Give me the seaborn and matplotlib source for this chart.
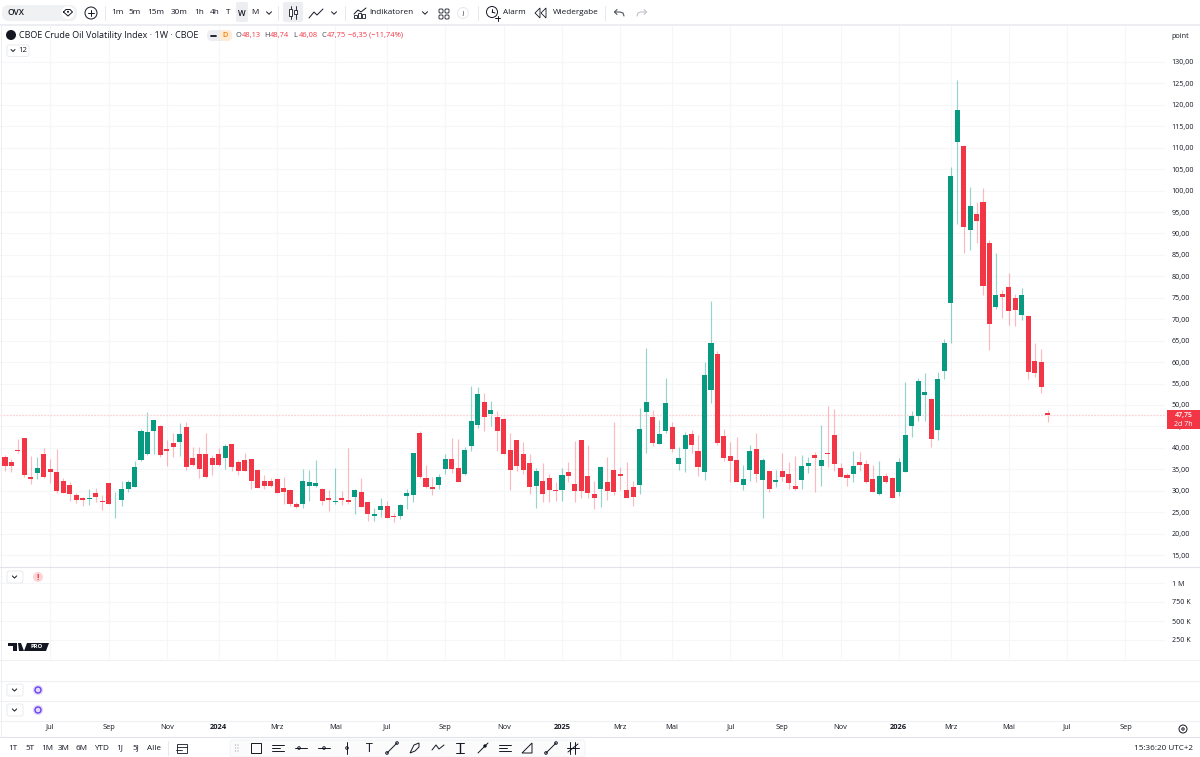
import matplotlib
matplotlib.use("Agg")
import matplotlib.pyplot as plt
from matplotlib.patches import Rectangle, FancyBboxPatch, Circle, Polygon
import pandas as pd
import seaborn as sns

# Weekly OVX candles
opens = [37.9,36.7,39.6,42.2,33.1,34.1,38.5,35.1,34.4,32.2,31.3,28.9,28.2,28.0,29.5,27.5,31.8,26.8,27.8,30.4,
         30.9,37.1,38.5,44.0,45.2,39.8,41.2,41.4,44.9,37.7,38.6,38.5,37.7,38.6,37.7,40.9,36.6,37.2,37.3,34.9,
         32.2,32.3,32.8,30.7,30.2,27.0,27.0,31.1,31.1,30.4,28.4,27.3,28.2,27.9,28.6,29.8,27.3,24.1,25.6,26.5,
         24.2,24.1,28.8,29.0,43.5,32.9,30.8,31.4,35.0,37.5,35.4,33.9,40.5,45.3,50.8,48.0,47.3,46.8,39.6,41.8,
         38.6,36.5,31.0,32.3,32.9,30.2,30.1,34.4,31.6,41.8,33.4,29.3,30.3,32.1,34.8,33.8,30.2,30.8,31.3,48.3,
         47.2,41.0,43.9,44.9,36.2,39.7,43.3,39.2,34.4,53.6,61.8,42.8,38.1,37.1,31.3,34.8,39.8,32.6,34.7,32.0,
         34.7,33.8,31.1,32.5,35.8,38.3,35.8,38.9,43.0,35.4,33.7,33.9,36.8,36.2,32.8,29.2,33.4,33.0,29.8,34.4,
         45.2,47.4,52.4,51.5,44.2,57.9,73.8,111.4,110.4,90.8,94.5,97.3,87.7,72.8,76.0,77.5,75.0,71.0,70.7,60.2,
         60.1,48.13]
highs = [38.3,37.5,42.0,42.3,38.2,37.9,40.0,37.4,39.7,32.9,32.1,29.4,28.6,30.3,30.7,29.1,31.9,29.7,32.2,32.4,
         37.0,44.3,48.4,46.6,45.3,41.8,43.4,45.7,46.0,40.1,40.2,43.4,38.3,39.9,40.8,41.0,37.2,38.7,37.5,35.0,
         33.7,32.9,33.0,33.1,30.4,27.4,35.0,34.8,37.2,30.7,30.2,35.4,29.9,39.9,30.4,33.0,27.4,25.9,28.2,27.6,
         24.9,26.8,30.5,38.8,44.0,36.1,33.3,34.0,38.6,42.4,42.1,40.3,54.4,54.3,52.9,50.9,48.5,46.9,43.4,41.9,
         41.4,38.5,35.2,36.4,33.9,32.0,35.2,36.8,41.5,41.9,40.7,32.3,35.8,37.8,46.0,35.5,36.6,32.3,49.2,63.2,
         48.8,46.5,56.2,46.1,40.3,43.8,44.2,43.0,60.1,74.3,62.6,44.3,41.4,42.5,36.0,40.7,43.4,37.6,34.8,34.8,
         38.7,36.8,38.2,38.3,37.9,39.1,45.3,49.8,49.0,36.4,34.1,39.3,39.1,37.2,36.0,37.0,34.2,33.1,37.6,55.3,
         48.7,56.4,57.5,51.6,57.8,65.3,105.4,125.8,110.6,100.9,97.3,100.5,88.5,85.4,76.8,80.7,75.9,77.4,70.8,64.4,
         63.0,48.74]
lows = [34.7,34.4,38.9,33.3,31.6,32.8,33.0,31.7,29.4,29.4,27.7,27.2,26.4,26.7,27.3,25.5,26.9,23.6,26.5,29.8,
        30.8,37.0,38.4,38.6,37.8,35.8,37.9,38.2,34.8,35.8,33.0,32.9,33.7,35.8,35.1,34.6,33.7,34.6,30.5,30.6,
        30.5,30.8,29.4,26.8,26.4,25.9,25.9,27.6,30.8,26.7,25.3,27.0,26.7,26.8,24.5,26.2,23.0,23.0,23.9,23.6,
        22.7,23.5,25.7,27.4,32.9,30.7,29.0,30.5,34.0,34.2,32.0,33.7,39.3,44.7,44.0,45.2,39.3,38.5,30.2,34.7,
        34.0,29.2,26.0,27.3,27.3,27.5,27.7,32.1,27.4,28.4,28.4,25.8,26.3,27.8,29.0,30.2,28.3,26.5,29.2,38.9,
        40.5,40.9,43.4,39.1,34.8,34.4,38.9,33.4,32.5,50.5,40.7,37.0,32.0,32.0,30.2,32.3,32.1,23.6,29.6,30.9,
        32.3,30.4,30.2,30.4,34.1,29.6,31.2,35.6,34.7,33.1,31.2,32.0,34.6,31.7,29.7,29.0,31.7,28.2,28.8,34.3,
        42.6,46.3,46.2,40.3,41.8,56.0,64.4,92.2,85.5,86.1,87.7,75.6,62.8,72.3,70.4,68.6,68.5,69.8,56.1,56.6,
        52.9,46.08]
closes = [35.8,35.8,39.3,33.6,32.8,35.2,33.2,34.4,29.9,29.5,29.3,27.9,27.9,28.3,28.6,27.3,27.0,27.0,30.5,32.0,
          35.5,44.0,43.6,46.5,38.4,39.2,40.3,43.2,35.5,36.1,35.0,33.2,36.1,35.9,40.4,35.6,34.6,34.7,32.3,30.7,
          31.2,31.0,29.5,29.6,26.8,26.2,32.2,32.0,31.7,27.7,27.9,27.7,27.9,27.4,30.2,26.3,24.6,24.6,26.4,23.7,
          23.9,26.7,29.5,38.7,33.2,30.9,30.4,33.2,37.4,35.1,32.1,39.5,46.2,52.6,47.1,48.8,44.0,38.6,34.9,35.7,
          34.8,30.8,34.7,29.2,30.1,29.9,33.7,33.4,29.9,29.9,29.5,28.3,35.6,29.9,29.6,33.4,28.4,28.6,44.5,50.7,
          41.2,43.3,50.4,39.8,37.7,42.9,40.6,35.5,57.1,64.5,41.1,37.6,36.9,32.1,32.7,39.2,34.0,37.1,30.3,32.5,
          33.2,31.7,30.4,35.7,36.4,37.6,37.1,38.6,36.2,33.2,33.0,35.8,35.9,32.0,29.8,33.5,32.1,28.3,36.6,43.1,
          47.5,55.7,53.0,42.0,56.0,64.5,103.4,118.8,91.6,96.5,92.9,77.7,68.9,75.6,75.2,71.9,72.1,75.7,57.6,57.5,
          54.1,47.75]

month_weeks = [7,16,25,33,42,51,59,68,77,86,95,103,112,120,129,138,146,155,164,173]
month_labels = ["Jul","Sep","Nov","2024","Mrz","Mai","Jul","Sep","Nov","2025","Mrz","Mai","Jul","Sep","Nov","2026","Mrz","Mai","Jul","Sep"]
price_ticks = list(range(15, 135, 5))
volume_ticks = [250, 500, 750, 1000]
volume_labels = ["250 K", "500 K", "750 K", "1 M"]
last_price = closes[-1]

UP = "#089981"
DOWN = "#f23645"
GRID = "#f5f6f8"
INK = "#131722"
SEP = "#e0e3eb"
W, H = 1200, 757
AXIS_SIZE = 5.1
BAR_SIZE = 5.9

sns.set_theme(style="white")
plt.rcParams["font.family"] = ["Open Sans", "DejaVu Sans"]

df = pd.DataFrame({"week": range(len(opens)), "open": opens, "high": highs, "low": lows, "close": closes})
df["base"] = df[["open", "close"]].min(axis=1)
df["body"] = (df["close"] - df["open"]).abs()
df["rising"] = df["close"] >= df["open"]

fig = plt.figure(figsize=(W / 100, H / 100), dpi=100, facecolor="white")


def pane(top, bottom):
    return fig.add_axes([0, 1 - bottom / H, 1165 / W, (bottom - top) / H])


ax = pane(25, 566)
for rising, colour, wick_alpha in [(True, UP, 0.42), (False, DOWN, 0.34)]:
    part = df[df["rising"] == rising]
    ax.vlines(part["week"], part["low"], part["high"], color=colour, alpha=wick_alpha, lw=0.85, zorder=0.8)
    sns.barplot(data=part, x="week", y="body", bottom=part["base"].to_numpy(), native_scale=True,
                width=0.78, color=colour, saturation=1, linewidth=0, errorbar=None, ax=ax, zorder=2)

ax.set_xlim(-0.773, 179.1)
ax.set_ylim(12.44, 138.63)
ax.axhline(last_price, color="#fbd3d6", lw=0.9, ls=(0, (1.5, 1)), zorder=0.9)
ax.set_xlabel("")
ax.set_ylabel("")
ax.set_axisbelow(True)
ax.grid(True, color=GRID, lw=0.8)
ax.set_xticks(month_weeks)
ax.set_xticklabels(month_labels)
ax.set_yticks(price_ticks)
ax.set_yticklabels([f"{p},00" for p in price_ticks])
ax.yaxis.tick_right()
ax.tick_params(axis="y", length=0, pad=4.8, labelsize=AXIS_SIZE, labelcolor=INK)
ax.tick_params(axis="x", length=0, pad=113.5, labelsize=5.4, labelcolor=INK)
for lab, txt in zip(ax.get_xticklabels(), month_labels):
    if txt.isdigit():
        lab.set_fontweight("bold")
sns.despine(ax=ax, left=True, right=True, top=True, bottom=True)

vol = pane(566, 659)
vol.set_xlim(ax.get_xlim())
vol.set_ylim((640 - 659) / 0.076 + 250, (640 - 566) / 0.076 + 250)
vol.set_xticks(month_weeks)
vol.set_xticklabels([])
vol.set_yticks(volume_ticks)
vol.set_yticklabels(volume_labels)
vol.yaxis.tick_right()
vol.tick_params(axis="both", length=0)
vol.tick_params(axis="y", pad=4.8, labelsize=AXIS_SIZE, labelcolor=INK)
vol.grid(True, color=GRID, lw=0.8)
vol.set_axisbelow(True)
sns.despine(ax=vol, left=True, right=True, top=True, bottom=True)

# Application chrome drawn in pixel space on top of the panes
ui = fig.add_axes([0, 0, 1, 1], zorder=10)
ui.set_xlim(0, W)
ui.set_ylim(H, 0)
ui.axis("off")
ui.patch.set_alpha(0)


def text(x, y, s, size=BAR_SIZE, color=INK, ha="left", weight="normal"):
    return ui.text(x, y, s, fontsize=size, color=color, ha=ha, va="center", fontweight=weight)


def rule(x0, y0, x1, y1, color=INK, lw=0.7):
    ui.plot([x0, x1], [y0, y1], color=color, lw=lw, solid_capstyle="round")


def rounded(x, y, w, h, face, edge="none", r=3, lw=0.6):
    ui.add_patch(FancyBboxPatch((x + r, y + r), w - 2 * r, h - 2 * r, boxstyle=f"round,pad={r}",
                                fc=face, ec=edge, lw=lw, mutation_aspect=1))


def chevron(x, y, s=2.5, color=INK):
    ui.plot([x - s, x, x + s], [y - s / 2, y + s / 2, y - s / 2], color=color, lw=0.7)


def ring(x, y, r, edge=INK, face="none", lw=0.7):
    ui.add_patch(Circle((x, y), r, fc=face, ec=edge, lw=lw))


# top bar
ui.add_patch(Rectangle((0, 0), W, 25, fc="white", ec="none"))
ui.add_patch(Rectangle((0, 24), W, 2, fc="#eceef2", ec="none"))
rounded(2, 5, 75, 16, "#f0f1f3", r=7)
text(8, 12.8, "OVX", 6.0, weight="semibold")
ring(68, 12.5, 6.5, edge="none", face="white")
ui.plot([63.5, 66, 70, 72.5, 68, 63.5], [12, 9.5, 9.5, 12, 16, 12], color=INK, lw=0.7)
ring(68, 11.8, 1, edge="none", face=INK)
ring(91, 13, 6)
rule(88, 13, 94, 13)
rule(91, 10, 91, 16)
for sep_x in (105, 278, 345, 478, 605):
    rule(sep_x, 6, sep_x, 20, "#e6e8ee", 0.7)
rounded(236, 2, 12, 20, "#eceef1", r=2)
for x, lab in [(117, "1m"), (135, "5m"), (156, "15m"), (179, "30m"), (199, "1h"), (215, "4h"), (228, "T"), (242, "W"), (255, "M")]:
    text(x, 13, lab, BAR_SIZE, ha="center", weight="semibold" if lab == "W" else "normal")
chevron(269, 13)
rounded(283, 2, 20, 20, "#eceef1", r=2)
for cx, top, bot in [(290.5, 9, 16), (295.5, 10, 14)]:
    rule(cx, 6, cx, 19, INK, 0.6)
    ui.add_patch(Rectangle((cx - 1.6, top), 3.2, bot - top, fc="white", ec=INK, lw=0.6, zorder=5))
ui.plot([309, 314, 317, 323], [18, 12, 15, 9], color=INK, lw=0.7)
chevron(334, 13)
ui.plot([354, 358, 361, 366], [14, 10, 12, 8], color=INK, lw=0.7)
for bx, bt in [(354, 15), (358, 13), (362, 14)]:
    ui.add_patch(Rectangle((bx, bt), 3, 18 - bt, fc="none", ec=INK, lw=0.6))
text(369, 13, "Indikatoren", BAR_SIZE)
chevron(425, 13)
for gx in (439, 445):
    for gy in (9, 15):
        rounded(gx, gy, 4, 4, "white", INK, r=1)
ring(463, 13, 5.5, edge="#e6e8ee")
text(463, 13, "J", 4.2, ha="center")
ring(492, 12, 5.5)
rule(492, 12, 492, 9)
rule(492, 12, 495, 13)
rule(495, 18, 500, 18)
rule(497.5, 15.5, 497.5, 20.5)
text(503, 13, "Alarm", BAR_SIZE)
for rx in (535, 541):
    ui.add_patch(Polygon([(rx + 5, 8), (rx, 13), (rx + 5, 18)], fc="none", ec=INK, lw=0.6))
text(553, 13, "Wiedergabe", BAR_SIZE)
ui.plot([617, 614.5, 617], [9.5, 12, 14.5], color="#50535e", lw=0.8)
ui.plot([614.5, 620, 623, 624], [12, 12, 13, 16], color="#50535e", lw=0.8)
ui.plot([644, 646.5, 644], [9.5, 12, 14.5], color="#c0c3cc", lw=0.8)
ui.plot([646.5, 641, 638, 637], [12, 12, 13, 16], color="#c0c3cc", lw=0.8)

# legend row
ring(11, 35, 5, edge="none", face=INK)
text(19, 35.5, "CBOE Crude Oil Volatility Index · 1W · CBOE", 6.45)
rounded(207, 30, 25, 11, "#eceef1", r=5)
rounded(219, 30, 13, 11, "#fdebd5", r=5)
rule(210.5, 35.5, 216, 35.5, INK, 1.3)
text(225, 35.5, "D", 5.2, "#f57c00", ha="center", weight="semibold")
for x, letter, value in [(236, "O", "48,13"), (264, "H", "48,74"), (293, "L", "46,08"), (321, "C", "47,75")]:
    text(x, 35.5, letter, 5.4, "#434651")
    text(x + 5.8, 35.5, value, 5.4, DOWN)
text(348, 35.5, "−6,35 (−11,74%)", 5.4, DOWN)
rounded(7, 45, 22, 11.5, "white", "#e6e8ee", r=2)
chevron(13, 50.5, 2)
text(18, 51, "12", 5.6)
text(1180, 36, "point", 5.2, ha="center")

# last price tag
ui.add_patch(Rectangle((1167, 410), 33, 19, fc=DOWN, ec="none"))
text(1183.5, 415, "47,75", 5.0, "white", ha="center", weight="semibold")
text(1183.5, 424, "2d 7h", 5.0, "white", ha="center")

# pane separators
ui.plot([0.5, 0.5], [25, 736], color="#eceef2", lw=0.7)
rule(0, 566.5, W, 566.5, "#e0e3eb", 0.8)
for y in (659.5, 680.5, 700.5, 720.5):
    rule(0, y, W, y, "#eff0f3", 0.8)
rule(0, 736.5, W, 736.5, SEP, 0.8)

# collapsed pane controls
for y in (577, 690, 710):
    rounded(7, y - 6, 16, 12, "white", "#e6e8ee", r=2)
    chevron(14.5, y, 2.2)
ring(38, 577, 5, edge="none", face="#fbd5d8")
text(38, 577, "!", 6, DOWN, ha="center", weight="bold")
for y in (690, 710):
    ring(38, y, 5.2, edge="none", face="#e3dcfb")
    ring(38, y, 3, edge="#6a3df0", lw=1)

# logo
ui.add_patch(Polygon([(8, 643), (17, 643), (17, 651), (13, 651), (13, 646), (8, 646)], fc=INK, ec="none"))
ui.add_patch(Polygon([(18, 643), (21, 643), (24, 651), (19, 651)], fc=INK, ec="none"))
ui.add_patch(Polygon([(27, 643), (49, 643), (46, 651), (24, 651)], fc=INK, ec="none"))
text(36.5, 647, "PRO", 4.2, "white", ha="center", weight="bold")

# bottom bar
for x, lab in [(13, "1T"), (30, "5T"), (47, "1M"), (64, "3M"), (82, "6M"), (101, "YTD"), (120, "1J"), (136, "5J"), (154, "Alle")]:
    text(x, 748, lab, BAR_SIZE, ha="center")
rule(168, 741, 168, 755, "#e6e8ee", 0.7)
ui.add_patch(Rectangle((177, 744), 10, 9, fc="none", ec=INK, lw=0.6))
rule(177, 747, 187, 747, INK, 0.6)
rule(176, 750, 182, 750, INK, 0.6)
rounded(230, 740, 355, 17, "#fbfbfc", "#f0f1f4", r=3)
icon_x = [256, 278, 301, 324, 347, 369, 392, 415, 438, 460, 483, 505, 528, 551, 573]
for dx in (235.5, 238):
    for dy in (745, 748, 751):
        ring(dx, dy, 0.4, edge="#b2b5be", lw=0.4)
ui.add_patch(Rectangle((icon_x[0] - 5, 743), 10, 10, fc="none", ec=INK, lw=0.7))
for k, x in enumerate(icon_x[1:], start=1):
    if k in (1, 11):
        rule(x - 6, 745, x + 6, 745)
        rule(x - 6, 748, x + 2, 748)
        rule(x - 6, 751, x + 6, 751)
    elif k in (2, 3):
        rule(x - 6, 748, x + 6, 748)
        ring(x - 2 if k == 2 else x, 748, 1.3, face="white")
    elif k == 4:
        rule(x, 742, x, 754)
        ring(x, 748, 1.3, face="white")
    elif k == 5:
        text(x, 748, "T", 9, ha="center")
    elif k in (6, 13):
        rule(x - 5, 753, x + 5, 743)
        ring(x - 5, 753, 1.3, face="white")
        ring(x + 5, 743, 1.3, face="white")
    elif k == 7:
        ui.add_patch(Polygon([(x - 5, 753), (x - 1, 745), (x + 4, 743), (x + 4, 747), (x, 751)], fc="none", ec=INK, lw=0.7))
    elif k == 8:
        ui.plot([x - 6, x - 2, x + 1, x + 6], [750, 745, 749, 745], color=INK, lw=0.7)
    elif k == 9:
        rule(x - 4, 743, x + 4, 743)
        rule(x - 4, 753, x + 4, 753)
        rule(x, 743, x, 753, INK, 1.0)
    elif k == 10:
        rule(x - 5, 753, x + 5, 743)
        ring(x + 2, 746, 1.7, edge="none", face=INK)
    elif k == 12:
        ui.add_patch(Polygon([(x - 6, 753), (x + 4, 753), (x + 4, 743)], fc="none", ec=INK, lw=0.7))
    elif k == 14:
        rule(x - 6, 748, x + 6, 748)
        rule(x - 3, 742, x - 3, 754)
        rule(x + 2, 742, x + 2, 754)
        rule(x - 5, 752, x + 5, 744)
text(1134, 748, "15:36:20 UTC+2", 5.9)
ring(1183, 729, 4)
ring(1183, 729, 1.2)

fig.savefig("out.png", dpi=100, facecolor="white")
